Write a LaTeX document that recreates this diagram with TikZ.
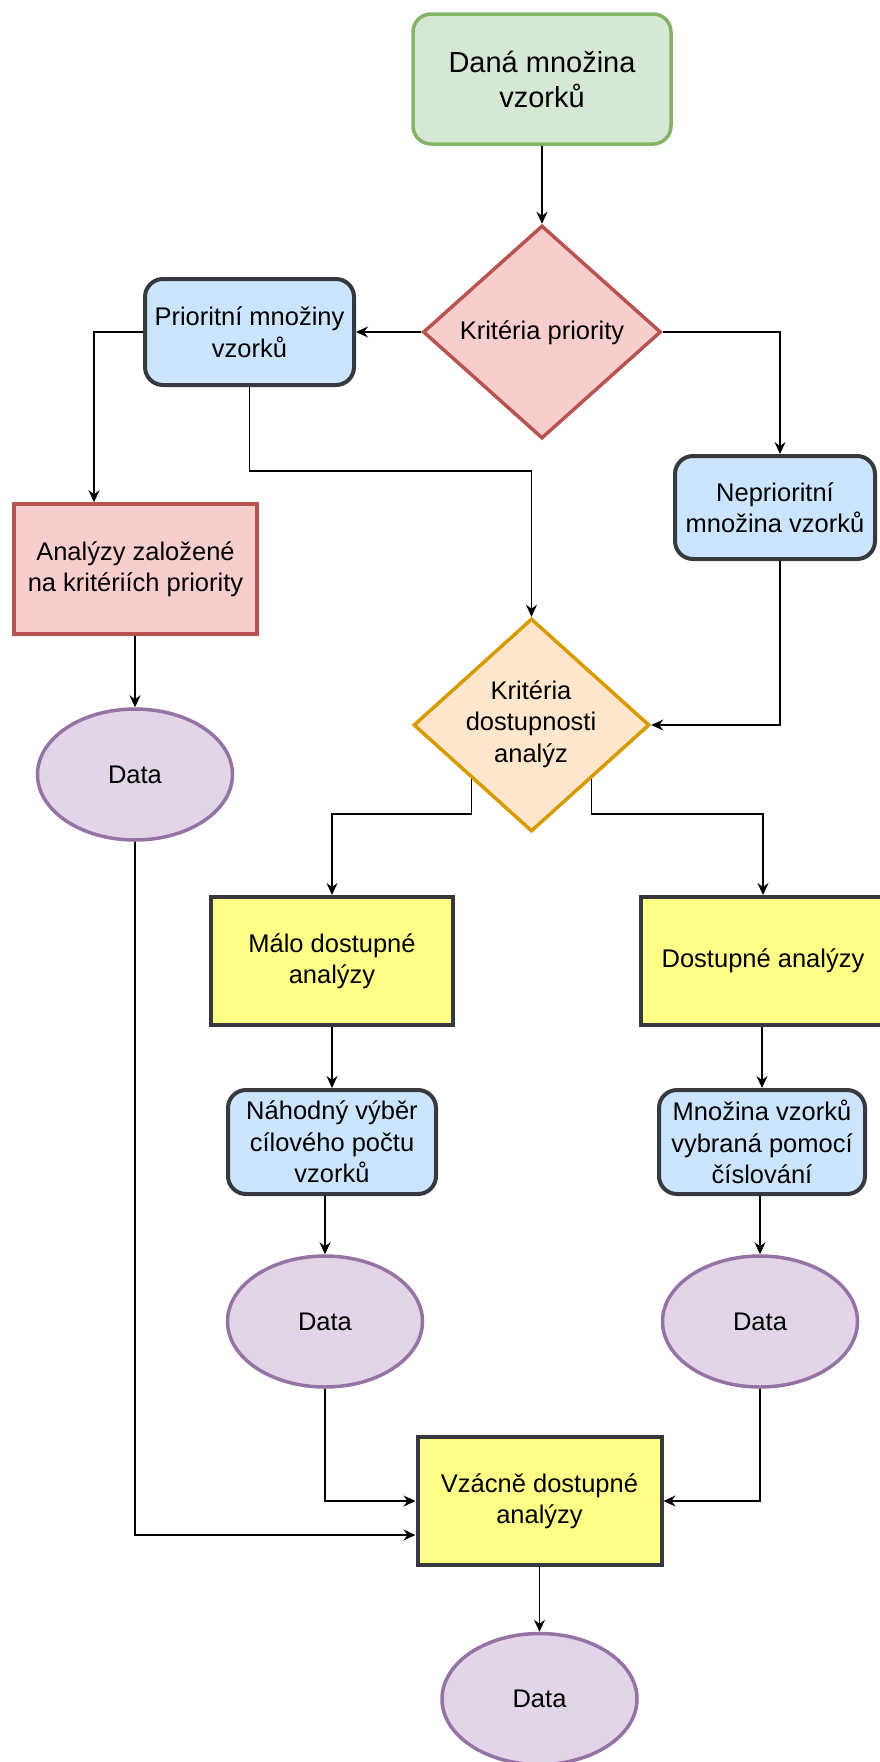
\documentclass[tikz,border=0pt]{standalone}
\usepackage{fontspec}
\setmainfont{Liberation Sans}
\usetikzlibrary{shapes.geometric,arrows.meta,calc}
\definecolor{gfill}{HTML}{D5E8D4}
\definecolor{gdraw}{HTML}{82B366}
\definecolor{rfill}{HTML}{F8CECC}
\definecolor{rdraw}{HTML}{B85450}
\definecolor{bfill}{HTML}{CCE5FF}
\definecolor{bdraw}{HTML}{36393D}
\definecolor{yfill}{HTML}{FFFF88}
\definecolor{pfill}{HTML}{E1D5E7}
\definecolor{pdraw}{HTML}{9673A6}
\definecolor{ofill}{HTML}{FFE6CC}
\definecolor{odraw}{HTML}{D79B00}
\newcommand\fsmain{\fontsize{25.5}{31.5}\selectfont}
\newcommand\fstop{\fontsize{29}{35}\selectfont}
\tikzset{
  base/.style={draw, line width=3.5pt, align=center, inner sep=0pt, font=\fsmain, text=black},
  greenbox/.style={base, rounded corners=18pt, fill=gfill, draw=gdraw, font=\fstop},
  bluebox/.style={base, line width=4pt, rounded corners=18pt, fill=bfill, draw=bdraw},
  redbox/.style={base, fill=rfill, draw=rdraw},
  yelbox/.style={base, line width=4pt, fill=yfill, draw=bdraw},
  dataell/.style={base, ellipse, fill=pfill, draw=pdraw, minimum width=195pt, minimum height=131pt},
  dia/.style={diamond, line width=3.5pt, inner sep=0pt},
  lbl/.style={align=center, inner sep=0pt, font=\fsmain, text=black},
  arr/.style={-{Stealth[length=12pt,width=11pt,inset=4pt]}, line width=1.4pt, draw=black},
}
\begin{document}
\begin{tikzpicture}[x=1pt,y=-1pt]
\fill[white] (0,0) rectangle (880,1762);
\clip (0,0) rectangle (880,1762);

% nodes
\node[greenbox, minimum width=258pt, minimum height=130pt] (top) at (542,79) {Daná množina\\vzorků};
\node[dia, draw=rdraw, fill=rfill, minimum width=238pt, minimum height=213pt] (kp) at (542,332) {};
\node[lbl] (kplbl) at (542,333) {Kritéria priority};
\node[bluebox, minimum width=209pt, minimum height=106pt] (pri) at (249.5,332) {Prioritní množiny\\vzorků};
\node[bluebox, minimum width=200pt, minimum height=103pt] (nepri) at (775,507.5) {Neprioritní\\množina vzorků};
\node[redbox, minimum width=243pt, minimum height=130pt] (anal) at (135.5,569) {Analýzy založené\\na kritériích priority};
\node[dataell] (d1) at (135,774.5) {Data};
\node[dia, draw=odraw, fill=ofill, minimum width=236pt, minimum height=213pt] (kd) at (531.5,725) {};
\node[lbl] (kdlbl) at (531,724) {Kritéria\\dostupnosti\\analýz};
\node[yelbox, minimum width=242pt, minimum height=128pt] (malo) at (332,961) {Málo dostupné\\analýzy};
\node[yelbox, minimum width=244pt, minimum height=128pt] (dost) at (763,961) {Dostupné analýzy};
\node[bluebox, minimum width=208pt, minimum height=104pt] (nah) at (332,1142) {Náhodný výběr\\cílového počtu\\vzorků};
\node[bluebox, minimum width=206pt, minimum height=104pt] (mno) at (762,1142) {Množina vzorků\\vybraná pomocí\\číslování};
\node[dataell] (d2) at (325,1321.5) {Data};
\node[dataell] (d3) at (760,1321.5) {Data};
\node[yelbox, minimum width=244pt, minimum height=128pt] (vz) at (539.5,1501) {Vzácně dostupné\\analýzy};
\node[dataell] (d4) at (539.5,1699) {Data};

% helper coordinates
\coordinate (bendA) at (0,471);
\coordinate (kdL) at ($(kd.west)!0.5!(kd.south)$);
\coordinate (kdR) at ($(kd.east)!0.5!(kd.south)$);

% connectors
\draw[arr] (top.south) -- (kp.north);
\draw[arr] (kp.west) -- (pri.east);
\draw[arr] (pri.west) -| ([xshift=-41.5pt]anal.north);
\draw[arr] (pri.south) -- (pri.south |- bendA) -| (kd.north);
\draw[arr] (kp.east) -| ([xshift=5pt]nepri.north);
\draw[arr] ([xshift=5pt]nepri.south) |- (kd.east);
\draw[arr] (d1.north |- anal.south) -- (d1.north);
\draw[arr] (kdL) -- ++(0,35) -| (malo.north);
\draw[arr] (kdR) -- ++(0,35) -| (dost.north);
\draw[arr] (malo.south) -- (nah.north);
\draw[arr] (mno.north |- dost.south) -- (mno.north);
\draw[arr] (d2.north |- nah.south) -- (d2.north);
\draw[arr] (d3.north |- mno.south) -- (d3.north);
\draw[arr] (d2.south) |- (vz.west);
\draw[arr] (d3.south) |- (vz.east);
\draw[arr] (d1.south) |- ([yshift=-34pt]vz.west);
\draw[arr] (vz.south) -- (d4.north);
\end{tikzpicture}
\end{document}
